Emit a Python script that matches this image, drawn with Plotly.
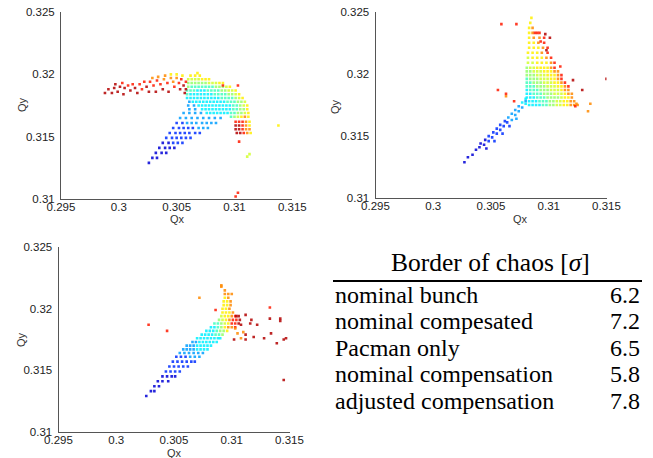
import plotly.graph_objects as go

# ---------------- data ----------------
# colour codes -> position on the jet colour scale
CODE_VALUE = {"B": 0.08, "b": 0.17, "l": 0.28, "c": 0.36, "a": 0.44, "g": 0.52,
              "y": 0.58, "Y": 0.64, "o": 0.74, "r": 0.85, "R": 0.95}

X_TICKS = [0.295, 0.3, 0.305, 0.31, 0.315]
X_TICK_TEXT = ["0.295", "0.3", "0.305", "0.31", "0.315"]
Y_TICKS = [0.31, 0.315, 0.32, 0.325]
Y_TICK_TEXT = ["0.31", "0.315", "0.32", "0.325"]

# ---- panel 1 : rows (Qy, [Qx...], colour codes) ----
ROWS1 = [
    (0.3129, [0.3026], "B"),
    (0.3133, [0.3029, 0.3033], "BB"),
    (0.3137, [0.3032, 0.3037, 0.3041], "BBB"),
    (0.3141, [0.3035, 0.3040, 0.3044, 0.3048], "BBBB"),
    (0.3145, [0.3038, 0.3043, 0.3047, 0.3051, 0.3055], "BBbbb"),
    (0.3149, [0.3041, 0.3046, 0.3050, 0.3054, 0.3058, 0.3062], "bbbbbb"),
    (0.3153, [0.3044, 0.3049, 0.3053, 0.3057, 0.3061, 0.3066, 0.3070], "bbbbbbb"),
    (0.3157, [0.3047, 0.3052, 0.3056, 0.3060, 0.3064, 0.3069, 0.3073, 0.3077], "bbbbblll"),
    (0.3161, [0.3050, 0.3055, 0.3059, 0.3063, 0.3067, 0.3072, 0.3076, 0.3080, 0.3084], "bblllllll"),
    (0.3165, [0.3053, 0.3058, 0.3063, 0.3068, 0.3073, 0.3078, 0.3083, 0.3088], "llllllll"),
    (0.3153, [0.3102, 0.3105, 0.3108, 0.3111, 0.3114], "RRroY"),
    (0.3156, [0.3101, 0.3104, 0.3107, 0.3110, 0.3113], "RRroo"),
    (0.3159, [0.3101, 0.3104, 0.3107, 0.3110, 0.3113], "RRroY"),
    (0.3162, [0.3101, 0.3104, 0.3107, 0.3110, 0.3113], "rrroY"),
    (0.3166, [0.3097, 0.3100, 0.3103, 0.3106, 0.3109, 0.3112], "agyYoY"),
    (0.3169, [0.3056, 0.3061, 0.3066, 0.3071, 0.3076, 0.3079, 0.3082, 0.3085, 0.3088,
              0.3091, 0.3094, 0.3097, 0.3100, 0.3103, 0.3106, 0.3109, 0.3112], "llllcccccccaaggyY"),
    (0.3172, [0.3061, 0.3066, 0.3072, 0.3075, 0.3078, 0.3081, 0.3084, 0.3087, 0.3090,
              0.3093, 0.3096, 0.3099, 0.3102, 0.3105, 0.3108, 0.3111], "llcccccccccaaggY"),
    (0.3175, [0.3060, 0.3065, 0.3069, 0.3072, 0.3075, 0.3078, 0.3081, 0.3084, 0.3087,
              0.3090, 0.3093, 0.3096, 0.3099, 0.3102, 0.3105, 0.3108, 0.3111], "llccccccccccaagyY"),
    (0.3178, [0.3061, 0.3064, 0.3067, 0.3070, 0.3073, 0.3076, 0.3079, 0.3082, 0.3085,
              0.3088, 0.3091, 0.3094, 0.3097, 0.3100, 0.3103, 0.3106, 0.3109], "lccccccccccaaaggy"),
    (0.3181, [0.3059, 0.3062, 0.3065, 0.3068, 0.3071, 0.3074, 0.3077, 0.3080, 0.3083,
              0.3086, 0.3089, 0.3092, 0.3095, 0.3098, 0.3101, 0.3104, 0.3107], "ccccccccccaaaagyY"),
    (0.3184, [0.3059, 0.3062, 0.3065, 0.3068, 0.3071, 0.3074, 0.3077, 0.3080, 0.3083,
              0.3086, 0.3089, 0.3092, 0.3095, 0.3098, 0.3101, 0.3104], "acccccccaaaaggyY"),
    (0.3187, [0.3059, 0.3062, 0.3065, 0.3068, 0.3071, 0.3074, 0.3077, 0.3080, 0.3083,
              0.3086, 0.3089, 0.3092, 0.3095, 0.3098, 0.3101], "aaacccaaaaggyyY"),
    (0.3190, [0.3060, 0.3063, 0.3066, 0.3069, 0.3072, 0.3075, 0.3078, 0.3081, 0.3084,
              0.3087, 0.3090, 0.3093, 0.3096], "gaaaaaaagggyY"),
    (0.3193, [0.3060, 0.3063, 0.3066, 0.3069, 0.3072, 0.3075, 0.3078, 0.3081, 0.3084,
              0.3087, 0.3090], "ggggggyyyYY"),
    (0.3196, [0.3060, 0.3063, 0.3066, 0.3069, 0.3072, 0.3075, 0.3078], "yyyyYYY"),
    (0.3199, [0.3062, 0.3066, 0.3070], "YYY"),
]
# ---- panel 1 : single points (Qx, Qy, code) ----
POINTS1 = [
    (0.2988, 0.3185, "R"), (0.2991, 0.3188, "R"), (0.2994, 0.3185, "R"), (0.2996, 0.3189, "R"),
    (0.2997, 0.3192, "R"), (0.2999, 0.3186, "R"), (0.3001, 0.3190, "R"), (0.3003, 0.3193, "r"),
    (0.3004, 0.3184, "R"), (0.3005, 0.3189, "R"), (0.3008, 0.3191, "r"), (0.3010, 0.3187, "R"),
    (0.3012, 0.3192, "r"), (0.3014, 0.3189, "R"), (0.3016, 0.3185, "R"), (0.3018, 0.3192, "r"),
    (0.3020, 0.3188, "r"), (0.3022, 0.3194, "r"), (0.3024, 0.3190, "R"), (0.3026, 0.3186, "R"),
    (0.3027, 0.3194, "r"), (0.3029, 0.3197, "o"), (0.3030, 0.3191, "r"), (0.3032, 0.3186, "R"),
    (0.3033, 0.3195, "r"), (0.3034, 0.3198, "o"), (0.3036, 0.3192, "r"), (0.3038, 0.3188, "R"),
    (0.3039, 0.3196, "o"), (0.3040, 0.3199, "o"), (0.3042, 0.3193, "r"), (0.3043, 0.3186, "R"),
    (0.3045, 0.3197, "o"), (0.3045, 0.3200, "Y"), (0.3047, 0.3194, "o"), (0.3048, 0.3190, "r"),
    (0.3050, 0.3197, "o"), (0.3050, 0.3200, "Y"), (0.3052, 0.3193, "r"), (0.3053, 0.3188, "R"),
    (0.3054, 0.3196, "r"), (0.3055, 0.3199, "Y"), (0.3056, 0.3191, "R"), (0.3057, 0.3185, "R"),
    (0.3058, 0.3194, "r"), (0.3058, 0.3188, "R"),
    (0.3138, 0.3159, "Y"), (0.3111, 0.3134, "y"), (0.3113, 0.3136, "y"), (0.3101, 0.3102, "r"),
    (0.3103, 0.3105, "r"), (0.3104, 0.3146, "r"), (0.3103, 0.3191, "r"), (0.3090, 0.3191, "r"),
    (0.3068, 0.3201, "Y"),
]

# ---- panel 2 ----
ROWS2 = [
    (0.3175, [0.3083, 0.3086, 0.3089, 0.3092, 0.3095, 0.3098, 0.3101, 0.3104, 0.3107,
              0.3110, 0.3113, 0.3116, 0.3119, 0.3122, 0.3125], "ccccaaggyyYYooo"),
    (0.3178, [0.3080, 0.3083, 0.3086, 0.3089, 0.3092, 0.3095, 0.3098, 0.3101, 0.3104,
              0.3107, 0.3110, 0.3113, 0.3116, 0.3119, 0.3122], "lcccaaaggyyYYoo"),
    (0.3181, [0.3081, 0.3084, 0.3087, 0.3090, 0.3093, 0.3096, 0.3099, 0.3102, 0.3105,
              0.3108, 0.3111, 0.3114, 0.3117, 0.3120], "cccaaaggggyYYo"),
    (0.3184, [0.3081, 0.3084, 0.3087, 0.3090, 0.3093, 0.3096, 0.3099, 0.3102, 0.3105,
              0.3108, 0.3111, 0.3114, 0.3117, 0.3120], "ccaaagggyyyYoo"),
    (0.3187, [0.3081, 0.3084, 0.3087, 0.3090, 0.3093, 0.3096, 0.3099, 0.3102, 0.3105,
              0.3108, 0.3111, 0.3114, 0.3117], "caaagggyyyYoo"),
    (0.3190, [0.3081, 0.3084, 0.3087, 0.3090, 0.3093, 0.3096, 0.3099, 0.3102, 0.3105,
              0.3108, 0.3111, 0.3114, 0.3117], "aaagggyyyYYor"),
    (0.3193, [0.3081, 0.3084, 0.3087, 0.3090, 0.3093, 0.3096, 0.3099, 0.3102, 0.3105,
              0.3108, 0.3111, 0.3114], "aagggyyyYYor"),
    (0.3196, [0.3081, 0.3084, 0.3087, 0.3090, 0.3093, 0.3096, 0.3099, 0.3102, 0.3105,
              0.3108, 0.3111], "agggyyyYYor"),
    (0.3199, [0.3081, 0.3084, 0.3087, 0.3090, 0.3093, 0.3096, 0.3099, 0.3102, 0.3105,
              0.3108, 0.3111], "gggyyyYYYor"),
    (0.3202, [0.3081, 0.3084, 0.3087, 0.3090, 0.3093, 0.3096, 0.3099, 0.3102, 0.3105,
              0.3108], "ggyyyYYYoo"),
    (0.3205, [0.3081, 0.3084, 0.3087, 0.3090, 0.3093, 0.3096, 0.3099, 0.3102, 0.3105], "gyyYYYYor"),
    (0.3209, [0.3082, 0.3086, 0.3090, 0.3094, 0.3098, 0.3102, 0.3105], "yyYYYor"),
    (0.3213, [0.3082, 0.3086, 0.3090, 0.3094, 0.3098, 0.3102], "yYYYor"),
    (0.3217, [0.3082, 0.3086, 0.3090, 0.3094, 0.3099], "YYYor"),
    (0.3221, [0.3083, 0.3087, 0.3091, 0.3095, 0.3099], "YYYor"),
    (0.3225, [0.3083, 0.3087, 0.3091, 0.3096], "YYor"),
    (0.3229, [0.3083, 0.3087, 0.3092, 0.3096, 0.3101], "YoorR"),
    (0.3233, [0.3083, 0.3086, 0.3090], "Yor"),
    (0.3237, [0.3083, 0.3086], "Yo"),
    (0.3241, [0.3084], "Y"),
    (0.3245, [0.3085], "Y"),
]
POINTS2 = [
    (0.3027, 0.3129, "B"), (0.3030, 0.3133, "B"), (0.3034, 0.3135, "B"), (0.3037, 0.3139, "B"),
    (0.3040, 0.3141, "B"), (0.3041, 0.3144, "B"), (0.3044, 0.3143, "B"), (0.3045, 0.3147, "B"),
    (0.3046, 0.3140, "B"), (0.3048, 0.3146, "b"), (0.3048, 0.3150, "b"), (0.3051, 0.3149, "b"),
    (0.3052, 0.3153, "b"), (0.3053, 0.3146, "b"), (0.3055, 0.3152, "b"), (0.3055, 0.3156, "b"),
    (0.3058, 0.3155, "b"), (0.3058, 0.3159, "b"), (0.3060, 0.3152, "b"), (0.3061, 0.3158, "b"),
    (0.3062, 0.3162, "b"), (0.3064, 0.3161, "b"), (0.3066, 0.3158, "b"), (0.3065, 0.3165, "l"),
    (0.3068, 0.3163, "l"), (0.3068, 0.3168, "l"), (0.3071, 0.3167, "l"), (0.3071, 0.3171, "l"),
    (0.3072, 0.3164, "l"), (0.3074, 0.3170, "l"), (0.3074, 0.3174, "l"), (0.3077, 0.3173, "l"),
    (0.3077, 0.3177, "c"), (0.3080, 0.3176, "c"), (0.3080, 0.3180, "c"),
    (0.3059, 0.3240, "r"), (0.3072, 0.3240, "r"), (0.3150, 0.3196, "R"), (0.3056, 0.3187, "r"),
    (0.3063, 0.3184, "r"), (0.3063, 0.3182, "o"), (0.3070, 0.3178, "r"), (0.3134, 0.3170, "o"),
    (0.3136, 0.3176, "o"), (0.3129, 0.3187, "R"), (0.3121, 0.3195, "R"), (0.3110, 0.3206, "r"),
    (0.3098, 0.3219, "R"), (0.3093, 0.3226, "r"), (0.3088, 0.3233, "r"), (0.3092, 0.3233, "r"),
    (0.3097, 0.3232, "R"), (0.3124, 0.3176, "o"), (0.3123, 0.3174, "r"),
]

# ---- panel 3 ----
ROWS3 = [
    (0.3129, [0.3026], "B"),
    (0.3133, [0.3030, 0.3033], "BB"),
    (0.3137, [0.3033, 0.3037], "BB"),
    (0.3141, [0.3036, 0.3040, 0.3045], "BBB"),
    (0.3145, [0.3040, 0.3044, 0.3048, 0.3051], "BBBB"),
    (0.3149, [0.3043, 0.3047, 0.3051, 0.3055], "bbbb"),
    (0.3153, [0.3046, 0.3050, 0.3054, 0.3058, 0.3062], "bbbbb"),
    (0.3157, [0.3049, 0.3053, 0.3057, 0.3061, 0.3065, 0.3068], "bbbbbb"),
    (0.3161, [0.3052, 0.3056, 0.3060, 0.3064, 0.3068, 0.3072], "bbblll"),
    (0.3164, [0.3055, 0.3059, 0.3063, 0.3067, 0.3071, 0.3075], "llllll"),
    (0.3167, [0.3058, 0.3061, 0.3064, 0.3067, 0.3070, 0.3073, 0.3076, 0.3079], "llllcccc"),
    (0.3170, [0.3061, 0.3064, 0.3067, 0.3070, 0.3073, 0.3076, 0.3079, 0.3082], "lllccccc"),
    (0.3173, [0.3066, 0.3069, 0.3072, 0.3075, 0.3078, 0.3081, 0.3084, 0.3087], "llcccccc"),
    (0.3176, [0.3070, 0.3073, 0.3076, 0.3079, 0.3082, 0.3085, 0.3088, 0.3090], "cccccccc"),
    (0.3179, [0.3074, 0.3077, 0.3080, 0.3083, 0.3086, 0.3089, 0.3092], "ccccaag"),
    (0.3182, [0.3078, 0.3081, 0.3084, 0.3087, 0.3090, 0.3093, 0.3096], "cccaggY"),
    (0.3185, [0.3082, 0.3085, 0.3088, 0.3091, 0.3094, 0.3097, 0.3100, 0.3103], "ccagYoor"),
    (0.3188, [0.3085, 0.3088, 0.3091, 0.3094, 0.3097, 0.3100, 0.3103, 0.3106], "aagyYrrR"),
    (0.3191, [0.3089, 0.3092, 0.3095, 0.3098, 0.3101, 0.3104, 0.3107], "gyYorrR"),
    (0.3194, [0.3091, 0.3094, 0.3097, 0.3100, 0.3103, 0.3106], "yYYorR"),
    (0.3197, [0.3092, 0.3095, 0.3098, 0.3101], "YYYo"),
    (0.3200, [0.3092, 0.3095, 0.3098], "YYo"),
    (0.3203, [0.3093, 0.3096, 0.3099], "YYo"),
    (0.3206, [0.3093, 0.3096, 0.3099], "YYo"),
    (0.3209, [0.3094, 0.3097], "Yo"),
    (0.3212, [0.3094, 0.3097, 0.3100], "ooo"),
    (0.3215, [0.3094], "o"),
    (0.3218, [0.3091], "o"),
]
POINTS3 = [
    (0.3028, 0.3187, "r"), (0.3044, 0.3182, "r"), (0.3072, 0.3209, "o"), (0.3086, 0.3199, "r"),
    (0.3104, 0.3194, "R"), (0.3112, 0.3195, "R"), (0.3117, 0.3191, "R"), (0.3122, 0.3187, "R"),
    (0.3133, 0.3201, "r"), (0.3133, 0.3192, "R"), (0.3142, 0.3192, "R"), (0.3142, 0.3190, "R"),
    (0.3134, 0.3180, "R"), (0.3112, 0.3179, "R"), (0.3112, 0.3175, "R"), (0.3119, 0.3177, "R"),
    (0.3128, 0.3176, "R"), (0.3139, 0.3172, "R"), (0.3145, 0.3175, "R"), (0.3147, 0.3176, "R"),
    (0.3145, 0.3142, "R"), (0.3102, 0.3175, "R"), (0.3108, 0.3187, "R"), (0.3116, 0.3188, "R"),
    (0.3103, 0.3184, "o"), (0.3105, 0.3180, "o"), (0.3108, 0.3176, "o"), (0.3110, 0.3181, "o"),
    (0.3091, 0.3219, "o"),
]

# ---- table ----
TABLE_TITLE = "Border of chaos [<i>σ</i>]"
TABLE_LABELS = ["nominal bunch", "nominal compesated", "Pacman only",
                "nominal compensation", "adjusted compensation"]
TABLE_VALUES = ["6.2", "7.2", "6.5", "5.8", "7.8"]

# ---------------- figure ----------------
W, H = 653, 458
JET = [[0.0, "rgb(0,0,140)"], [0.125, "rgb(0,0,255)"], [0.375, "rgb(0,255,255)"],
       [0.625, "rgb(255,255,0)"], [0.875, "rgb(255,0,0)"], [1.0, "rgb(128,0,0)"]]


def collect(rows, points):
    xs, ys, cs = [], [], []
    for qy, qxs, codes in rows:
        for qx, code in zip(qxs, codes):
            xs.append(qx); ys.append(qy); cs.append(CODE_VALUE[code])
    for qx, qy, code in points:
        xs.append(qx); ys.append(qy); cs.append(CODE_VALUE[code])
    return xs, ys, cs


def px2x(px):
    return px / W


def py2y(py):
    return 1 - py / H


# panel geometry in pixels: (left, right, top, bottom)
PANELS = [(61.0, 292.3, 12.0, 199.0), (375.5, 606.5, 11.7, 198.3), (58.5, 289.5, 247.3, 431.7)]
DATA = [(ROWS1, POINTS1), (ROWS2, POINTS2), (ROWS3, POINTS3)]

fig = go.Figure()
axis_font = dict(family="Liberation Sans, Arial, sans-serif", size=11.5, color="#222222")
layout = dict(width=W, height=H, margin=dict(l=0, r=0, t=0, b=0, pad=0, autoexpand=False),
              paper_bgcolor="white", plot_bgcolor="white", showlegend=False,
              template="none")

for i, ((l, r, t, b), (rows, pts)) in enumerate(zip(PANELS, DATA), start=1):
    xs, ys, cs = collect(rows, pts)
    fig.add_trace(go.Scatter(
        x=xs, y=ys, mode="markers", xaxis=f"x{i}", yaxis=f"y{i}",
        marker=dict(symbol="square", size=2.6, color=cs, colorscale=JET, cmin=0, cmax=1,
                    line=dict(width=0), opacity=0.85),
        hoverinfo="skip"))
    layout[f"xaxis{i}"] = dict(
        domain=[px2x(l), px2x(r)], range=[0.295, 0.315], anchor=f"y{i}",
        tickvals=X_TICKS, ticktext=X_TICK_TEXT, showgrid=False, zeroline=False,
        showline=True, linecolor="#555555", linewidth=1, ticks="", tickfont=axis_font,
        ticklabelstandoff=-3, automargin=False)
    layout[f"yaxis{i}"] = dict(
        domain=[py2y(b), py2y(t)], range=[0.31, 0.325], anchor=f"x{i}",
        tickvals=Y_TICKS, ticktext=Y_TICK_TEXT, showgrid=False, zeroline=False,
        showline=True, linecolor="#555555", linewidth=1, ticks="", tickfont=axis_font,
        ticklabelstandoff=3, automargin=False)

fig.update_layout(**layout)

ann = []
label_font = dict(family="Liberation Sans, Arial, sans-serif", size=11, color="#333333")
for (qx_x, qx_y, qy_x, qy_y) in [(177, 219, 22, 105), (520, 219, 335, 107), (174, 453, 21, 340)]:
    ann.append(dict(x=px2x(qx_x), y=py2y(qx_y), xref="paper", yref="paper", text="Qx",
                    showarrow=False, font=label_font, xanchor="center", yanchor="middle"))
    ann.append(dict(x=px2x(qy_x), y=py2y(qy_y), xref="paper", yref="paper", text="Qy",
                    showarrow=False, font=label_font, xanchor="center", yanchor="middle",
                    textangle=-90))

title_font = dict(family="Liberation Serif, Times New Roman, serif", size=25.5, color="black")
row_font = dict(family="Liberation Serif, Times New Roman, serif", size=24, color="black")
ann.append(dict(x=px2x(490), y=py2y(262), xref="paper", yref="paper", text=TABLE_TITLE,
                showarrow=False, font=title_font, xanchor="center", yanchor="middle",
                borderpad=0))
row_y = [294.5, 321.1, 347.7, 374.3, 400.9]
for lab, val, yy in zip(TABLE_LABELS, TABLE_VALUES, row_y):
    ann.append(dict(x=px2x(334), y=py2y(yy), xref="paper", yref="paper", text=lab,
                    showarrow=False, font=row_font, xanchor="left", yanchor="middle",
                    borderpad=0))
    ann.append(dict(x=px2x(641), y=py2y(yy), xref="paper", yref="paper", text=val,
                    showarrow=False, font=row_font, xanchor="right", yanchor="middle",
                    borderpad=0))
fig.update_layout(annotations=ann)
fig.add_shape(type="line", xref="paper", yref="paper", x0=px2x(333), x1=px2x(642),
              y0=py2y(281), y1=py2y(281), line=dict(color="black", width=2))

fig.write_html("out.html", post_script="document.body.style.margin='0';")
